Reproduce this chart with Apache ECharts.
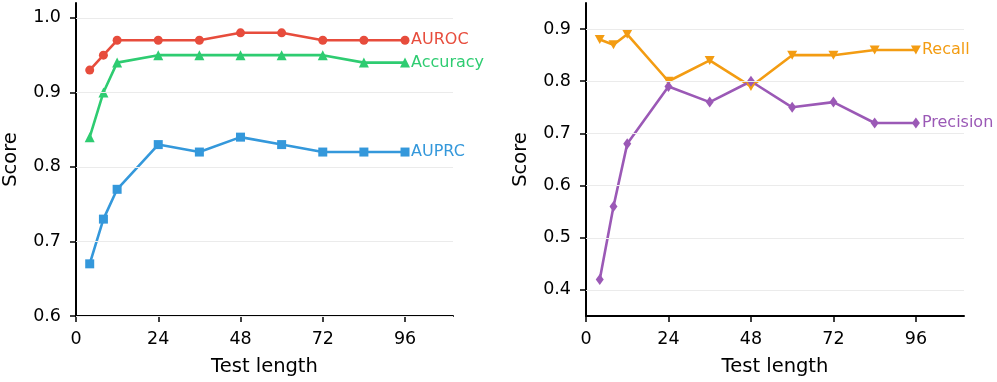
<!DOCTYPE html>
<html>
<head>
<meta charset="utf-8">
<script src="https://cdn.jsdelivr.net/npm/echarts@6/dist/echarts.min.js"></script>
<style>
  html, body { margin: 0; padding: 0; background: #fff; }
  #main { width: 997px; height: 382px; }
</style>
</head>
<body>
<div id="main"></div>
<script>
// test lengths shared by both panels
const testLength = [4, 8, 12, 24, 36, 48, 60, 72, 84, 96];
const xTicks = [0, 24, 48, 72, 96];

// left panel
const auroc = [0.93, 0.95, 0.97, 0.97, 0.97, 0.98, 0.98, 0.97, 0.97, 0.97];
const accuracy = [0.84, 0.90, 0.94, 0.95, 0.95, 0.95, 0.95, 0.95, 0.94, 0.94];
const auprc = [0.67, 0.73, 0.77, 0.83, 0.82, 0.84, 0.83, 0.82, 0.82, 0.82];
const leftTicks = [0.6, 0.7, 0.8, 0.9, 1.0];

// right panel
const recall = [0.88, 0.87, 0.89, 0.80, 0.84, 0.79, 0.85, 0.85, 0.86, 0.86];
const precision = [0.42, 0.56, 0.68, 0.79, 0.76, 0.80, 0.75, 0.76, 0.72, 0.72];
const rightTicks = [0.4, 0.5, 0.6, 0.7, 0.8, 0.9];

const FONT = 'DejaVu Sans';
const myChart = echarts.init(document.getElementById('main'));

function pairs(ys) {
  return testLength.map((x, i) => [x, ys[i]]);
}

function xAxis(gridIndex) {
  return {
    type: 'value', gridIndex, min: 0, max: 110,
    name: 'Test length', nameLocation: 'middle', nameGap: 41,
    nameTextStyle: { fontFamily: FONT, fontSize: 19.5, color: '#000' },
    axisLine: { onZero: false, lineStyle: { color: '#000', width: 2 } },
    axisTick: { show: true, length: 6, lineStyle: { color: '#000', width: 1.5 }, customValues: xTicks },
    axisLabel: { fontFamily: FONT, fontSize: 17.5, color: '#000', margin: 14, customValues: xTicks },
    splitLine: { show: false }
  };
}

function yAxis(gridIndex, min, max, ticks) {
  return {
    type: 'value', gridIndex, min, max,
    name: 'Score', nameLocation: 'middle', nameGap: 55,
    nameTextStyle: { fontFamily: FONT, fontSize: 19.5, color: '#000' },
    axisLine: { show: true, onZero: false, lineStyle: { color: '#000', width: 2 } },
    axisTick: { show: true, length: 6, lineStyle: { color: '#000', width: 1.5 }, customValues: ticks },
    axisLabel: { fontFamily: FONT, fontSize: 17.5, color: '#000', margin: 15, customValues: ticks,
      formatter: v => v.toFixed(1) },
    splitLine: { show: false }
  };
}

// light horizontal grid lines at the y ticks
function gridLines(ticks) {
  return {
    silent: true, symbol: 'none', label: { show: false },
    lineStyle: { color: '#ebebeb', width: 1, type: 'solid' },
    data: ticks.map(t => ({ yAxis: t }))
  };
}

function line(name, ys, color, symbol, size, idx, ticks) {
  const s = {
    type: 'line', name, data: pairs(ys),
    xAxisIndex: idx, yAxisIndex: idx,
    symbol, symbolSize: size, showAllSymbol: true,
    lineStyle: { color, width: 2.6 },
    itemStyle: { color },
    animation: false,
    z: 3,
    endLabel: { show: true, formatter: name, color, fontFamily: FONT, fontSize: 16, distance: 6 }
  };
  if (ticks) s.markLine = gridLines(ticks);
  return s;
}

const options = {
  animation: false,
  grid: [
    { left: 75, top: 3, right: 544, bottom: 64 },
    { left: 586, top: 3, right: 33, bottom: 64 }
  ],
  xAxis: [xAxis(0), xAxis(1)],
  yAxis: [yAxis(0, 0.6, 1.02, leftTicks), yAxis(1, 0.35, 0.95, rightTicks)],
  series: [
    line('AUROC', auroc, '#e74c3c', 'circle', 9, 0, leftTicks),
    line('Accuracy', accuracy, '#2ecc71', 'triangle', 10, 0),
    line('AUPRC', auprc, '#3498db', 'rect', 9, 0),
    line('Recall', recall, '#f39c12', 'path://M0,0 L10,0 L5,9 Z', [10, 9], 1, rightTicks),
    line('Precision', precision, '#9b59b6', 'diamond', [8, 11], 1)
  ]
};

myChart.setOption(options);
</script>
</body>
</html>
